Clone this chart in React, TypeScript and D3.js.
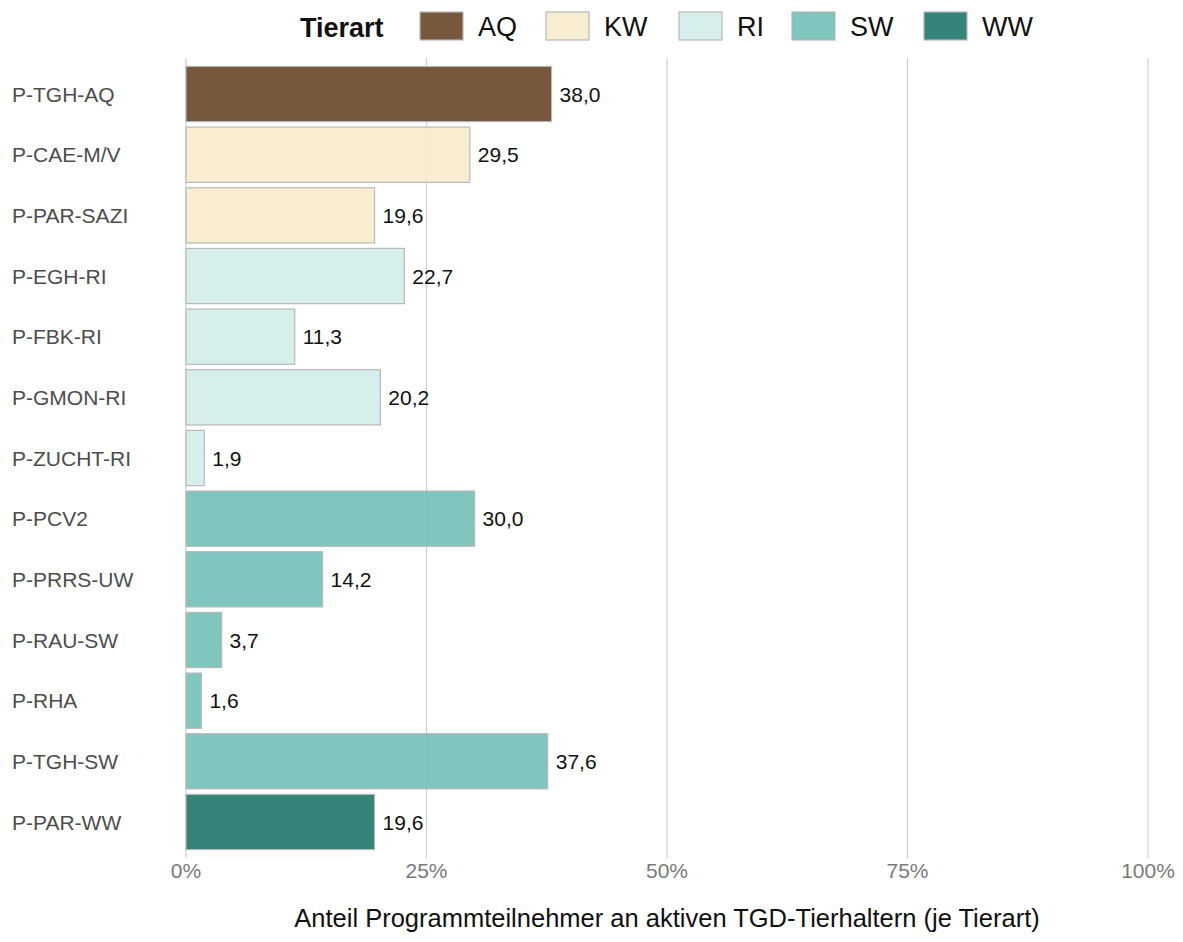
import { useEffect, useRef } from "react";
import * as d3 from "d3";

// ------- data -------
const programs = [
  "P-TGH-AQ", "P-CAE-M/V", "P-PAR-SAZI", "P-EGH-RI", "P-FBK-RI", "P-GMON-RI",
  "P-ZUCHT-RI", "P-PCV2", "P-PRRS-UW", "P-RAU-SW", "P-RHA", "P-TGH-SW", "P-PAR-WW",
];
const shares = [38.0, 29.5, 19.6, 22.7, 11.3, 20.2, 1.9, 30.0, 14.2, 3.7, 1.6, 37.6, 19.6];
const animalTypes = ["AQ", "KW", "KW", "RI", "RI", "RI", "RI", "SW", "SW", "SW", "SW", "SW", "WW"];
const legendKeys = ["AQ", "KW", "RI", "SW", "WW"];
const legendColors = ["#6b4a2b", "#f7ebcc", "#d2eeea", "#74c1b8", "#237a6f"];
const xTicks = [0, 25, 50, 75, 100];

export default function App() {
  const ref = useRef<SVGSVGElement | null>(null);

  useEffect(() => {
    const svgEl = ref.current;
    if (!svgEl) return;

    const width = 1183;
    const height = 942;
    const left = 186;
    const right = 1148;
    const top = 64;
    const bottom = 852;
    const font = "'Liberation Sans', Arial, sans-serif";

    const svg = d3.select(svgEl);
    svg.selectAll("*").remove();
    svg.attr("width", width).attr("height", height).style("font-family", font);

    const x = d3.scaleLinear().domain([0, 100]).range([left, right]);
    const y = d3.scaleBand<string>().domain(programs).range([top, bottom]).paddingInner(0.09).paddingOuter(0.04);
    const color = d3.scaleOrdinal<string, string>().domain(legendKeys).range(legendColors);

    // ------- grid + ticks -------
    svg.append("g")
      .selectAll("line")
      .data(xTicks)
      .enter()
      .append("line")
      .attr("x1", (d) => x(d))
      .attr("x2", (d) => x(d))
      .attr("y1", 58)
      .attr("y2", 858)
      .attr("stroke", "#cfcfcf")
      .attr("stroke-width", 1.2);

    // ------- bars -------
    const rows = programs.map((name, i) => ({ name, value: shares[i], type: animalTypes[i] }));
    svg.append("g")
      .selectAll("rect")
      .data(rows)
      .enter()
      .append("rect")
      .attr("x", x(0))
      .attr("y", (d) => y(d.name)!)
      .attr("width", (d) => x(d.value) - x(0))
      .attr("height", y.bandwidth())
      .attr("fill", (d) => color(d.type))
      .attr("fill-opacity", 0.92)
      .attr("stroke", "#b8b8b8")
      .attr("stroke-width", 1.2);

    // ------- value labels -------
    svg.append("g")
      .selectAll("text")
      .data(rows)
      .enter()
      .append("text")
      .attr("x", (d) => x(d.value) + 8)
      .attr("y", (d) => y(d.name)! + y.bandwidth() / 2)
      .attr("dy", "0.36em")
      .attr("font-size", 21)
      .attr("fill", "#111")
      .text((d) => d.value.toFixed(1).replace(".", ","));

    // ------- category labels -------
    svg.append("g")
      .selectAll("text")
      .data(programs)
      .enter()
      .append("text")
      .attr("x", 12)
      .attr("y", (d) => y(d)! + y.bandwidth() / 2)
      .attr("dy", "0.36em")
      .attr("font-size", 21)
      .attr("fill", "#4d4d4d")
      .text((d) => d);

    // ------- x tick labels -------
    svg.append("g")
      .selectAll("text")
      .data(xTicks)
      .enter()
      .append("text")
      .attr("x", (d) => x(d))
      .attr("y", 878)
      .attr("text-anchor", "middle")
      .attr("font-size", 21)
      .attr("fill", "#7a7a7a")
      .text((d) => `${d}%`);

    svg.append("text")
      .attr("x", 667)
      .attr("y", 927)
      .attr("text-anchor", "middle")
      .attr("font-size", 25.5)
      .attr("fill", "#111")
      .text("Anteil Programmteilnehmer an aktiven TGD-Tierhaltern (je Tierart)");

    // ------- legend -------
    const lg = svg.append("g");
    lg.append("text")
      .attr("x", 300)
      .attr("y", 37)
      .attr("font-size", 27)
      .attr("font-weight", "bold")
      .attr("fill", "#111")
      .text("Tierart");
    const legendX = [420, 546, 679, 792, 924];
    legendKeys.forEach((k, i) => {
      lg.append("rect")
        .attr("x", legendX[i])
        .attr("y", 12)
        .attr("width", 43)
        .attr("height", 28)
        .attr("fill", color(k))
        .attr("fill-opacity", 0.92)
        .attr("stroke", "#b8b8b8")
        .attr("stroke-width", 1.2);
      lg.append("text")
        .attr("x", legendX[i] + 58)
        .attr("y", 36)
        .attr("font-size", 27)
        .attr("fill", "#111")
        .text(k);
    });
  }, []);

  return (
    <div style={{ margin: -8 }}>
      <svg ref={ref} style={{ display: "block" }} />
    </div>
  );
}
